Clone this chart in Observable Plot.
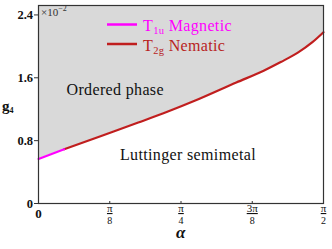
<!DOCTYPE html>
<html><head><meta charset="utf-8">
<script src="https://cdn.jsdelivr.net/npm/d3@7"></script>
<script src="https://cdn.jsdelivr.net/npm/@observablehq/plot@0.6"></script>
<style>
body{margin:0;background:#fff;}
#chart{width:332px;height:249px;}
.frac-num text{text-decoration:underline;}
</style></head><body><div id="chart"></div>
<script>
// α expressed as a multiple of π; g4 in units of 10^-2
const alphaMagnetic = [0, 0.045];
const gMagnetic = [0.567, 0.69];
const alphaNematic = [0.045, 0.11, 0.175, 0.227, 0.275, 0.347, 0.395, 0.425, 0.455, 0.48, 0.5];
const gNematic = [0.69, 0.86, 1.03, 1.17, 1.31, 1.54, 1.69, 1.80, 1.92, 2.05, 2.18];
const yTicks = [0, 0.8, 1.6, 2.4];
const yTickLabels = ["0", "0.8", "1.6", "2.4"];
const xTicks = [0, 0.125, 0.25, 0.375, 0.5];
const xTickNum = ["", "π", "π", "3π", "π"];
const xTickDen = ["", "8", "4", "8", "2"];
const xTickPlain = ["0", "", "", "", ""];
const yMax = 2.52;

const magnetic = alphaMagnetic.map((a, i) => ({a, g: gMagnetic[i]}));
const nematic = alphaNematic.map((a, i) => ({a, g: gNematic[i]}));
const boundary = magnetic.concat(nematic.slice(1));
const xt = xTicks.map((v, i) => ({v, num: xTickNum[i], den: xTickDen[i], plain: xTickPlain[i]}));

const serif = "Liberation Serif";
const plot = Plot.plot({
  width: 332, height: 249,
  marginLeft: 38, marginRight: 9, marginTop: 5, marginBottom: 46,
  style: {fontFamily: serif, background: "#fff"},
  x: {domain: [0, 0.5], axis: null},
  y: {domain: [0, yMax], axis: null},
  marks: [
    Plot.areaY(boundary, {x: "a", y1: "g", y2: yMax, fill: "#d9d9d9", curve: "monotone-x"}),
    Plot.line(nematic, {x: "a", y: "g", stroke: "#c01e1e", strokeWidth: 2.2, curve: "monotone-x"}),
    Plot.line(magnetic, {x: "a", y: "g", stroke: "#ff00ff", strokeWidth: 2.2}),
    Plot.frame({stroke: "#333", strokeWidth: 1.2}),
    Plot.ruleX(xTicks.slice(1, 4), {stroke: "#333", insetTop: 196}),
    Plot.axisY({ticks: yTicks, tickFormat: (d, i) => yTickLabels[i], tickSize: 4, tickPadding: 1.5, label: null,
      fontSize: 12.5, fontWeight: "bold", stroke: "#333", fill: "#111"}),
    Plot.text(xt, {x: "v", text: "plain", frameAnchor: "bottom", dy: 14, fontSize: 13, fontWeight: "bold", fill: "#111"}),
    Plot.text(xt, {x: "v", text: "num", frameAnchor: "bottom", dy: 8.5, fontSize: 11, fill: "#111", className: "frac-num"}),
    Plot.text(xt, {x: "v", text: "den", frameAnchor: "bottom", dy: 20.5, fontSize: 10, fill: "#111"})
  ]
});
document.getElementById("chart").appendChild(plot);

// Annotations, legend and axis titles
const svg = d3.select(plot);
const ann = svg.append("g").attr("font-family", serif).attr("text-anchor", "start");
function label(x, y, parts, opts = {}) {
  const t = ann.append("text").attr("x", x).attr("y", y)
    .attr("font-size", opts.size || 16).attr("fill", opts.fill || "#111")
    .attr("letter-spacing", opts.ls ?? 0.35);
  if (opts.weight) t.attr("font-weight", opts.weight);
  if (opts.style) t.attr("font-style", opts.style);
  for (const p of parts) {
    const s = t.append("tspan").text(p.t);
    if (p.size) s.attr("font-size", p.size);
    if (p.dy) s.attr("dy", p.dy);
  }
  return t;
}
// ×10^-2
label(41, 16, [{t: "×10"}, {t: "−2", size: 8, dy: -5}], {size: 11, ls: 0, fill: "#333"});
// legend
ann.append("line").attr("x1", 107).attr("x2", 137).attr("y1", 24.5).attr("y2", 24.5)
  .attr("stroke", "#ff00ff").attr("stroke-width", 2.5);
ann.append("line").attr("x1", 107).attr("x2", 137).attr("y1", 44).attr("y2", 44)
  .attr("stroke", "#c01e1e").attr("stroke-width", 2.5);
label(143, 31, [{t: "T"}, {t: "1u", size: 10.5, dy: 3}, {t: " Magnetic", dy: -3}], {fill: "#ff00ff"});
label(143, 50.5, [{t: "T"}, {t: "2g", size: 10.5, dy: 3}, {t: " Nematic", dy: -3}], {fill: "#b8231e"});
// phase labels
label(66.5, 95, [{t: "Ordered phase"}]);
label(120, 160, [{t: "Luttinger semimetal"}]);
// axis titles
label(2, 111, [{t: "g"}, {t: "4", size: 8, dy: 2}], {size: 15, weight: "bold", ls: 0});
label(176, 238, [{t: "α"}], {size: 17, weight: "bold", style: "italic", ls: 0});
</script></body></html>
